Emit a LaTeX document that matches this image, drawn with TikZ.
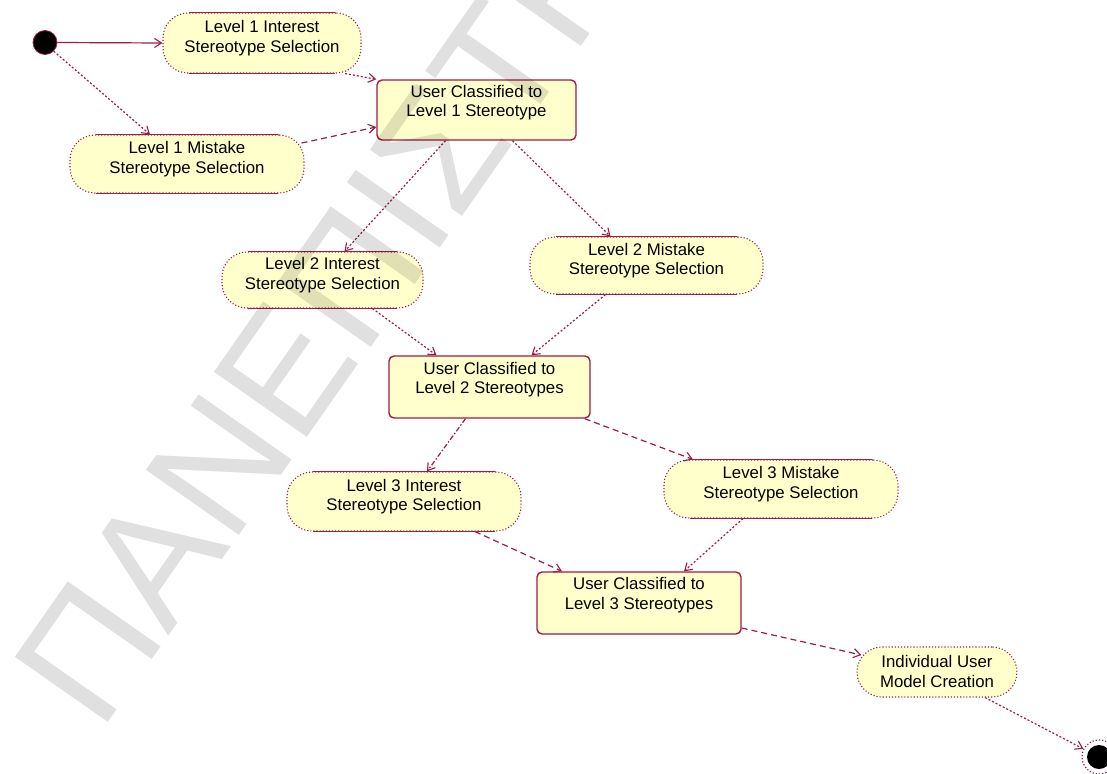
\documentclass[tikz,border=0pt]{standalone}
\usepackage{fontspec}
\setmainfont{Liberation Sans}
\newfontfamily\wmfont{Liberation Sans}
\usetikzlibrary{arrows.meta,calc}

\definecolor{umlred}{HTML}{9E1B4B}
\definecolor{umlfill}{HTML}{FFFFCC}

\tikzset{
  x=1pt, y=1pt,
  activity/.style={fill=umlfill, draw=umlred, dotted, line width=1.1pt,
    rounded corners=25pt, inner sep=0pt},
  classbox/.style={fill=umlfill, draw=umlred, line width=1.4pt,
    rounded corners=5pt, inner sep=0pt},
  lbl/.style={font=\fontsize{16.8}{19.5}\selectfont, align=center,
    inner sep=0pt, text=black},
  flow/.style={draw=umlred, line width=1.2pt,
    -{Straight Barb[length=7pt,width=9pt,line width=1.1pt]}},
  fine/.style={dash pattern=on 2pt off 2pt},
  longdash/.style={dash pattern=on 6pt off 4pt},
  dashdotline/.style={dash pattern=on 5pt off 2pt on 1.5pt off 2pt},
  edgeline/.style={draw=umlred, line width=1.6pt},
  watermark/.style={font=\wmfont\fontsize{165}{165}\selectfont,
    text=black, opacity=0.12, inner sep=0pt, rotate=55, anchor=base west},
}

\begin{document}
\begin{tikzpicture}
\clip (0,0) rectangle (1107,-773);
\fill[white] (0,0) rectangle (1107,-773);

% start and end points
\node[circle, fill=black, draw=umlred, line width=0.8pt, minimum size=24pt, inner sep=0pt] (init) at (45,-42.5) {};
\node[circle, fill=white, draw=umlred, dotted, line width=1.2pt, minimum size=34pt, inner sep=0pt] (final) at (1099,-757) {};
\node[circle, fill=black, minimum size=24pt, inner sep=0pt] (finaldot) at (final) {};

% activity states
\node[activity, minimum width=198pt, minimum height=60pt] (l1i) at (262,-43) {};
\node[activity, minimum width=234pt, minimum height=58pt] (l1m) at (187,-164) {};
\node[activity, minimum width=201pt, minimum height=56pt] (l2i) at (322.5,-280) {};
\node[activity, minimum width=233pt, minimum height=57pt] (l2m) at (646.5,-265.5) {};
\node[activity, minimum width=234pt, minimum height=59pt] (l3i) at (404,-501.5) {};
\node[activity, minimum width=234pt, minimum height=58pt] (l3m) at (781,-489) {};
\node[activity, minimum width=160pt, minimum height=50pt] (ind) at (937,-672) {};

% classification boxes
\node[classbox, minimum width=199pt, minimum height=60pt] (uc1) at (476.5,-110) {};
\node[classbox, minimum width=201pt, minimum height=62pt] (uc2) at (489.5,-387) {};
\node[classbox, minimum width=204pt, minimum height=62pt] (uc3) at (639,-603) {};

% solid top and bottom edges of the activity states
\foreach \n in {l1i,l1m,l2i,l2m,l3i,l3m} {
  \draw[edgeline] ([xshift=27pt]\n.north west) -- ([xshift=-27pt]\n.north east);
  \draw[edgeline] ([xshift=27pt]\n.south west) -- ([xshift=-27pt]\n.south east);
}

% texts
\node[lbl] (l1i-t) at ($(l1i.center)+(0,5)$) {Level 1 Interest\\Stereotype Selection};
\node[lbl] (l1m-t) at ($(l1m.center)+(0,5)$) {Level 1 Mistake\\Stereotype Selection};
\node[lbl] (l2i-t) at ($(l2i.center)+(0,5)$) {Level 2 Interest\\Stereotype Selection};
\node[lbl] (l2m-t) at ($(l2m.center)+(0,5)$) {Level 2 Mistake\\Stereotype Selection};
\node[lbl] (l3i-t) at ($(l3i.center)+(0,5)$) {Level 3 Interest\\Stereotype Selection};
\node[lbl] (l3m-t) at ($(l3m.center)+(0,5)$) {Level 3 Mistake\\Stereotype Selection};
\node[lbl] (ind-t) at ($(ind.center)+(0,0.5)$) {Individual User\\Model Creation};
\node[lbl] (uc1-t) at ($(uc1.center)+(0,7.5)$) {User Classified to\\Level 1 Stereotype};
\node[lbl] (uc2-t) at ($(uc2.center)+(0,7.5)$) {User Classified to\\Level 2 Stereotypes};
\node[lbl] (uc3-t) at ($(uc3.center)+(0,8)$) {User Classified to\\Level 3 Stereotypes};

% transitions
\draw[flow] (init.east) -- (l1i.west);
\draw[flow, fine] (init.south east) -- ($(l1m.north)+(-37,0)$);
\draw[flow, fine] ($(l1i.south)+(83,0)$) -- (uc1.north west);
\draw[flow, longdash] ($(l1m.east)+(-3,21)$) -- ($(uc1.west)+(0,-17)$);
\draw[flow, fine] ($(uc1.south)+(-31,0)$) -- ($(l2i.north)+(22,0)$);
\draw[flow, fine] ($(uc1.south)+(36,0)$) -- ($(l2m.north)+(-36,0)$);
\draw[flow, fine] ($(l2i.south)+(50,0)$) -- ($(uc2.north)+(-53,0)$);
\draw[flow, fine] ($(l2m.south)+(-41,0)$) -- ($(uc2.north)+(42,0)$);
\draw[flow, dashdotline] ($(uc2.south)+(-24,0)$) -- ($(l3i.north)+(23,0)$);
\draw[flow, longdash] ($(uc2.south east)+(-6,0)$) -- ($(l3m.north)+(-88,0)$);
\draw[flow, longdash] ($(l3i.south)+(71,0)$) -- ($(uc3.north)+(-77,0)$);
\draw[flow, fine] ($(l3m.south)+(-38,0)$) -- ($(uc3.north)+(45,0)$);
\draw[flow, longdash] ($(uc3.east)+(0,-25)$) -- ($(ind.west)+(5,17)$);
\draw[flow, fine] ($(ind.south)+(48,0)$) -- (final);

% watermark across the sheet
\node[watermark] (wm) at (100,-734) {ΠΑΝΕΠΙΣΤΗΜΙΟ};
\end{tikzpicture}
\end{document}
